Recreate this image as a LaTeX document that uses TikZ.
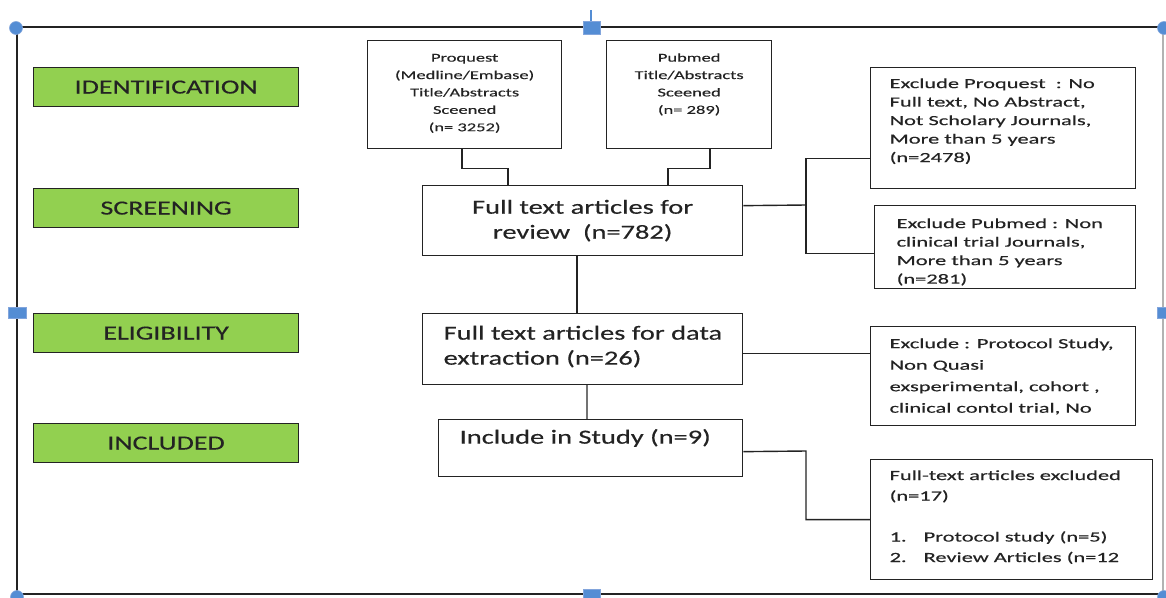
\documentclass[tikz,border=0pt]{standalone}
\usepackage{fontspec}
\setmainfont{Carlito}
\newfontfamily\cfMain[FakeStretch=1.42,FakeBold=0.4]{Carlito}
\newfontfamily\cfStage[FakeStretch=1.40,FakeBold=0.4]{Carlito}
\newfontfamily\cfSide[FakeStretch=1.6,FakeBold=0.4]{Carlito}
\newfontfamily\cfTop[FakeStretch=1.54,FakeBold=0.3]{Carlito}
\definecolor{stagegreen}{RGB}{146,208,80}
\definecolor{handleblue}{RGB}{84,141,212}
\definecolor{handleedge}{RGB}{130,165,220}
\definecolor{ink}{RGB}{35,35,35}
\newcommand\fsTop{\cfTop\fontsize{12}{17.4}\selectfont}
\newcommand\fsMain{\cfMain\fontsize{20}{25}\selectfont}
\newcommand\fsSide{\cfSide\fontsize{14}{18.5}\selectfont}
\begin{document}
\begin{tikzpicture}[x=1pt,y=-1pt,
  stage/.style={draw=ink, fill=stagegreen, line width=1.2pt, minimum width=265pt, minimum height=39pt, inner sep=0pt, font=\cfStage\fontsize{20}{22}\selectfont, text=ink, anchor=north west},
  box/.style={draw=ink, line width=1.3pt, inner sep=0pt, anchor=north west, text=ink},
  conn/.style={draw=ink, line width=1.4pt},
  handle/.style={fill=handleblue, draw=handleedge, line width=0.6pt},
]
\useasboundingbox (0,0) rectangle (1166,597);

% outer frame
\draw[line width=1.3pt, ink] (1163,27) -- (17,27) -- (17,594) -- (1163,594);
\draw[line width=1.3pt, gray!60] (1163,27) -- (1163,594);

% stage labels
\node[stage] (sid) at (33,67) {IDENTIFICATION};
\node[stage] (sscr) at (33,188) {SCREENING};
\node[stage] (seli) at (33,313) {ELIGIBILITY};
\node[stage] (sinc) at (33,423) {INCLUDED};

% top sources
\node[box] (pq) at (367,40) {\parbox[c][108pt][t]{194pt}{\fsTop\centering\vspace*{8.8pt}\strut Proquest\\(Medline/Embase)\\Title/Abstracts\\Sceened\\(n= 3252)}};
\node[box] (pm) at (606,40) {\parbox[c][108pt][t]{165pt}{\fsTop\centering\vspace*{8.8pt}\strut Pubmed\\Title/Abstracts\\Sceened\\(n= 289)}};

% main column
\node[box, minimum width=320pt, minimum height=70pt, align=center, font=\fsMain] (ft) at (422,185) {Full text articles for\\review\ \ (n=782)};
\node[box] (de) at (422,313) {\parbox[c][71pt][t]{320pt}{\fsMain\raggedright\leftskip=21pt\vspace*{8.5pt}\strut Full text articles for data\\extraction (n=26)}};
\node[box] (inc) at (438,419) {\parbox[c][57pt][t]{304pt}{\fsMain\raggedright\leftskip=21pt\vspace*{6.5pt}\strut Include in Study (n=9)}};

% exclusion boxes
\node[box] (ex1) at (870,67) {\parbox[c][121pt][t]{265pt}{\fsSide\raggedright\leftskip=19pt\vspace*{7.5pt}\strut Exclude Proquest\ \ : No\\Full text, No Abstract,\\Not Scholary Journals,\\More than 5 years\\(n=2478)}};
\node[box] (ex2) at (874,205) {\parbox[c][83pt][t]{261pt}{\fsSide\raggedright\leftskip=22pt\vspace*{9.5pt}\strut Exclude Pubmed : Non\\clinical trial Journals,\\More than 5 years\\(n=281)}};
\node[box] (ex3) at (870,326) {\parbox[c][99pt][t]{265pt}{\cfSide\fontsize{14}{21.5}\selectfont\raggedright\leftskip=19pt\vspace*{6.5pt}\strut Exclude : Protocol Study,\\Non Quasi\\exsperimental, cohort ,\\clinical contol trial, No}};
\node[box] (ex4) at (870,459) {\parbox[c][120pt][t]{282pt}{\cfSide\fontsize{14}{20.5}\selectfont\raggedright\leftskip=19pt\vspace*{6pt}\strut Full-text articles excluded\\(n=17)\\\mbox{}\\\makebox[34pt][l]{1.}Protocol study (n=5)\\\makebox[34pt][l]{2.}Review Articles (n=12}};

% connectors
\coordinate (b1) at (806,205);
\coordinate (b2) at (806,451);
\draw[conn] ([xshift=95pt]pq.south west) -- ++(0,19) -| ([xshift=86pt]ft.north west);
\draw[conn] ([xshift=104pt]pm.south west) -- ++(0,19) -| ([xshift=246pt]ft.north west);
\draw[conn] ([yshift=15pt]ft.east) -- (b1);
\draw[conn] ([yshift=-30.5pt]ex1.west) -| (b1) |- ([yshift=-6.5pt]ex2.west);
\draw[conn] ([xshift=155pt]ft.south west) -- ([xshift=155pt]de.north west);
\draw[draw=black!55, line width=2.4pt] ([xshift=165pt]de.south west) -- ([xshift=149pt]inc.north west);
\draw[conn] ([yshift=-4.5pt]de.east) -- ([yshift=-4.5pt]de.east -| ex3.west);
\draw[conn] ([yshift=-3.5pt]inc.east) -- (b2) |- (ex4.west);

% selection handles
\draw[handleblue, line width=1.5pt] (591,10) -- (591,21);
\filldraw[handle] (583,21) rectangle (600,34);
\filldraw[handle] (8,307) rectangle (26,318);
\filldraw[handle] (1157,307) rectangle (1175,318);
\filldraw[handle] (583,589) rectangle (600,600);
\filldraw[handle] (16,28) circle (6.5pt);
\filldraw[handle] (1164,28) circle (6.5pt);
\filldraw[handle] (17,597) circle (6.5pt);
\filldraw[handle] (1164,597) circle (6.5pt);
\end{tikzpicture}
\end{document}
